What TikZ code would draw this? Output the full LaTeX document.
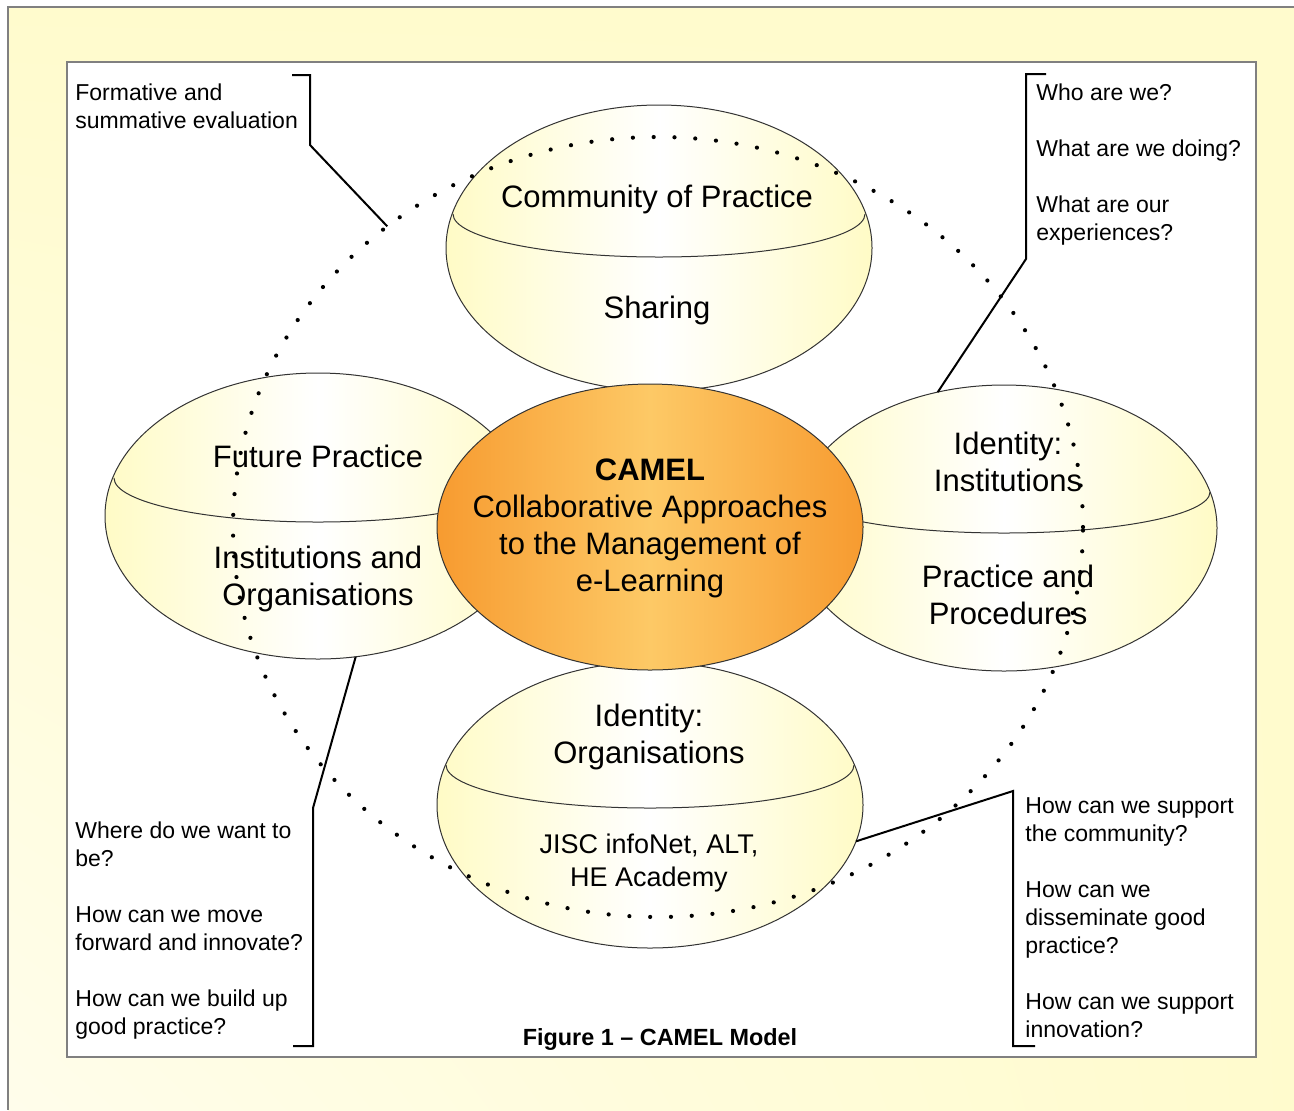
\documentclass[tikz,border=0pt]{standalone}
\usepackage{fontspec}
\setmainfont{Liberation Sans}
\usetikzlibrary{shapes.geometric, shadings}

\definecolor{paleyellow}{RGB}{255,251,205}
\definecolor{satyellow}{RGB}{255,251,198}
\definecolor{camelorange}{RGB}{247,155,48}
\definecolor{camellight}{RGB}{253,201,102}
\definecolor{framegray}{RGB}{128,128,128}

\begin{document}
\begin{tikzpicture}[
    x=0.5pt, y=-0.5pt,
    % Satellite ellipse style
    satellite/.style={
        ellipse,
        draw=black!80,
        line width=0.5pt,
        left color=satyellow,
        right color=satyellow,
        middle color=white,
        minimum width=213pt,
        minimum height=143pt,
        inner sep=0pt,
        outer sep=0pt
    },
    % Central ellipse style
    hub/.style={
        ellipse,
        draw=black!80,
        line width=0.5pt,
        left color=camelorange,
        right color=camelorange,
        middle color=camellight,
        minimum width=213pt,
        minimum height=143pt,
        inner sep=0pt,
        outer sep=0pt
    },
    % Dotted ring style
    ringline/.style={
        ellipse,
        draw=black,
        line width=2.1pt,
        line cap=round,
        dash pattern=on 0pt off 10.4pt,
        minimum width=425pt,
        minimum height=390pt,
        inner sep=0pt,
        outer sep=0pt
    },
    divider/.style={
        draw=black!80,
        line width=0.5pt
    },
    satlabel/.style={
        font=\fontsize{15.5}{18.5}\selectfont,
        align=center,
        inner sep=0pt
    },
    notetext/.style={
        font=\fontsize{11.5}{14}\selectfont,
        align=left,
        anchor=north west,
        inner sep=0pt
    },
    bracket/.style={
        draw=black,
        line width=1pt
    }
]

% === Page and frame ===
\useasboundingbox (0,0) rectangle (1294,1110);
\shade[upper left=paleyellow, upper right=paleyellow,
       lower left=white!60!paleyellow, lower right=paleyellow]
    (8,7) rectangle (1294,1110);
\draw[framegray, line width=1pt] (1294,7) -- (8,7) -- (8,1110);
\draw[framegray, line width=1pt, fill=white] (67,62) rectangle (1256,1057);

% === Satellite ellipses ===
\node[satellite] (topsat) at (659,248) {};
\node[satellite] (leftsat) at (318,516) {};
\node[satellite] (rightsat) at (1004,528) {};
\node[satellite] (botsat) at (650,805) {};

\draw[divider] ([xshift=-103pt,yshift=17pt]topsat.center) arc[start angle=180, end angle=360, x radius=103pt, y radius=21.5pt];
\draw[divider] ([xshift=-102pt,yshift=19pt]leftsat.center) arc[start angle=180, end angle=360, x radius=102pt, y radius=22pt];
\draw[divider] ([xshift=-103pt,yshift=18pt]rightsat.center) arc[start angle=180, end angle=360, x radius=103pt, y radius=20.5pt];
\draw[divider] ([xshift=-102pt,yshift=20pt]botsat.center) arc[start angle=180, end angle=360, x radius=102pt, y radius=21.5pt];

% === Satellite labels ===
\node[satlabel, anchor=base] (toptitle) at (657,207) {Community of Practice};
\node[satlabel, anchor=base] (topbody) at (657,318) {Sharing};
\node[satlabel, anchor=base] (lefttitle) at (318,467) {Future Practice};
\node[satlabel, anchor=north] (leftbody) at (318,546) {Institutions and\\Organisations};
\node[satlabel, anchor=north] (righttitle) at (1008,432) {Identity:\\Institutions};
\node[satlabel, anchor=north] (rightbody) at (1008,565) {Practice and\\Procedures};
\node[satlabel, anchor=north] (bottitle) at (649,704) {Identity:\\Organisations};
\node[satlabel, anchor=north, font=\fontsize{13.5}{16.5}\selectfont] (botbody) at (649,834) {JISC infoNet, ALT,\\HE Academy};

% === Central ellipse ===
\node[hub] (camel) at (650,527) {};
\node[satlabel, anchor=north] (cameltext) at (650,458) {\textbf{CAMEL}\\Collaborative Approaches\\to the Management of\\e-Learning};

% === Dotted ring ===
\node[ringline] (ring) at (658,527) {};

% === Question notes ===
\node[notetext] (evalnote) at (75,83) {Formative and\\summative evaluation};
\node[notetext] (whonote) at (1036,83) {Who are we?\\[14pt]What are we doing?\\[14pt]What are our\\experiences?};
\node[notetext] (wherenote) at (75,821) {Where do we want to\\be?\\[14pt]How can we move\\forward and innovate?\\[14pt]How can we build up\\good practice?};
\node[notetext] (supportnote) at (1025,797) {How can we support\\the community?\\[14pt]How can we\\disseminate good\\practice?\\[14pt]How can we support\\innovation?};

% === Brackets ===
\coordinate (evalhook) at (292,75);
\coordinate (whohook) at (1046,74);
\coordinate (wherehook) at (293,1046);
\coordinate (supporthook) at (1035,1046);

\draw[bracket] (evalhook) -- ++(18,0) -- ++(0,70) -- (ring.132);
\draw[bracket] (whohook) -- ++(-20,0) -- ++(0,185) -- (rightsat.116);
\draw[bracket] (wherehook) -- ++(20,0) -- ++(0,-238) -- (leftsat.285);
\draw[bracket] (supporthook) -- ++(-22,0) -- ++(0,-255) -- (botsat.350);

% === Caption ===
\node[font=\bfseries\fontsize{11.7}{14}\selectfont, anchor=base, inner sep=0pt] (caption) at (660,1045) {Figure 1 \textendash\ CAMEL Model};

\end{tikzpicture}
\end{document}
